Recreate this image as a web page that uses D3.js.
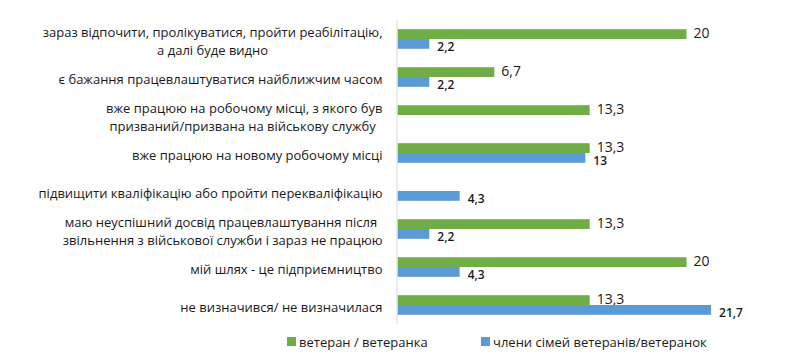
<!DOCTYPE html>
<html><head><meta charset="utf-8">
<script src="https://cdn.jsdelivr.net/npm/d3@7"></script>
<style>
html,body{margin:0;padding:0;background:#fff;}
svg{display:block;}
</style></head>
<body>
<svg id="c" width="802" height="358"></svg>
<script>
const categories = [
  ["зараз відпочити, пролікуватися, пройти реабілітацію,", "а далі буде видно"],
  ["є бажання працевлаштуватися найближчим часом"],
  ["вже працюю на робочому місці, з якого був", "призваний/призвана на військову службу "],
  ["вже працюю на новому робочому місці"],
  ["підвищити кваліфікацію або пройти перекваліфікацію"],
  ["маю неуспішний досвід працевлаштування після ", "звільнення з військової служби і зараз не працюю"],
  ["мій шлях - це підприємництво"],
  ["не визначився/ не визначилася"]
];
const seriesNames = ["ветеран / ветеранка", "члени сімей ветеранів/ветеранок"];
const veterans = [20, 6.7, 13.3, 13.3, null, 13.3, 20, 13.3];
const families = [2.2, 2.2, null, 13, 4.3, 2.2, 4.3, 21.7];
const valueLabelsVet = ["20", "6,7", "13,3", "13,3", "", "13,3", "20", "13,3"];
const valueLabelsFam = ["2,2", "2,2", "", "13", "4,3", "2,2", "4,3", "21,7"];

const colors = ["#70ad47", "#5b9bd5"];
const font = "'Open Sans', sans-serif";
const svg = d3.select("#c");

const x0 = 397.5;
const x = d3.scaleLinear().domain([0, 20]).range([x0, 686.5]);
const y = d3.scaleBand().domain(d3.range(categories.length)).range([20, 324]);
const barH = 9.8;
const groupOff = (y.bandwidth() - 2 * barH) / 2;

// bars
const series = [veterans, families];
const labels = [valueLabelsVet, valueLabelsFam];
series.forEach((vals, s) => {
  svg.append("g").selectAll("rect")
    .data(vals.map((v, i) => ({v, i})).filter(d => d.v != null))
    .join("rect")
    .attr("x", x0)
    .attr("y", d => y(d.i) + groupOff + s * barH)
    .attr("width", d => x(d.v) - x0)
    .attr("height", barH)
    .attr("fill", colors[s]);
  svg.append("g").selectAll("text")
    .data(vals.map((v, i) => ({v, i, t: labels[s][i]})).filter(d => d.v != null))
    .join("text")
    .attr("x", d => x(d.v) + (s === 0 ? 7 : 8))
    .attr("y", d => y(d.i) + groupOff + s * barH + barH / 2 + (s === 0 ? -1.5 : 2.5))
    .attr("dominant-baseline", "central")
    .attr("font-family", font)
    .attr("font-size", s === 0 ? 14 : 12)
    .attr("font-weight", s === 0 ? 400 : 600)
    .attr("fill", "#1a1a1a")
    .text(d => d.t);
});

// axis line
svg.append("line")
  .attr("x1", x0 - 0.5).attr("x2", x0 - 0.5)
  .attr("y1", y.range()[0]).attr("y2", y.range()[1])
  .attr("stroke", "#d9d9d9").attr("stroke-width", 1);

// category labels
const rightEdge = 382.5;
const lineH = 18;
categories.forEach((lines, i) => {
  const g = svg.append("g");
  const cy = y(i) + y.bandwidth() / 2 + 1.5;
  const texts = lines.map((ln, k) => g.append("text")
    .attr("y", cy + (k - (lines.length - 1) / 2) * lineH)
    .attr("dominant-baseline", "central")
    .attr("font-family", font)
    .attr("font-size", 13)
    .attr("fill", "#1a1a1a")
    .attr("text-anchor", "middle")
    .style("white-space", "pre")
    .text(ln));
  const maxW = d3.max(texts, t => t.node().getComputedTextLength());
  texts.forEach(t => t.attr("x", rightEdge - maxW / 2));
});

// legend
const legend = [{name: seriesNames[0], x: 287}, {name: seriesNames[1], x: 481}];
legend.forEach((l, s) => {
  svg.append("rect").attr("x", l.x).attr("y", 337).attr("width", 9).attr("height", 9).attr("fill", colors[s]);
  svg.append("text").attr("x", l.x + 12).attr("y", 341.5)
    .attr("dominant-baseline", "central")
    .attr("font-family", font).attr("font-size", 13).attr("fill", "#1a1a1a")
    .text(l.name);
});
</script>
</body></html>
